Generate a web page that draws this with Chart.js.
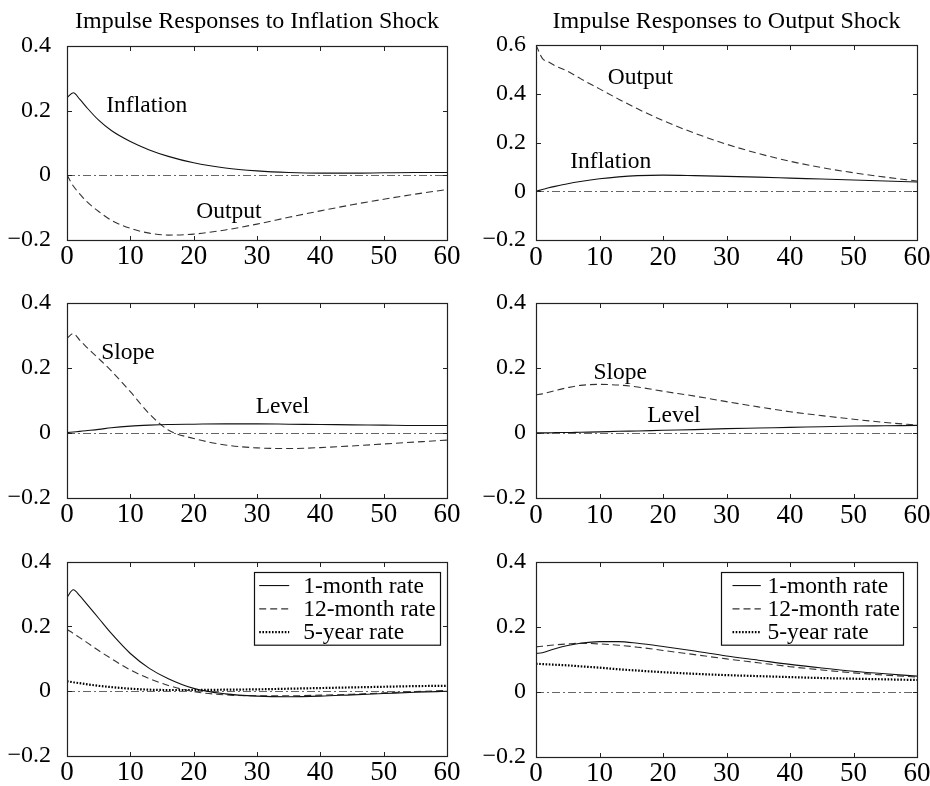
<!DOCTYPE html>
<html>
<head>
<meta charset="utf-8">
<script src="https://cdn.jsdelivr.net/npm/chart.js@4.4.1/dist/chart.umd.min.js"></script>
<style>
  html,body{margin:0;padding:0;background:#fff;}
  body{width:930px;height:786px;position:relative;overflow:hidden;}
  canvas{position:absolute;}
</style>
</head>
<body>
<canvas id="c1" width="465" height="270" style="left:0;top:0"></canvas>
<canvas id="c2" width="480" height="270" style="left:465px;top:0"></canvas>
<canvas id="c3" width="465" height="258" style="left:0;top:270px"></canvas>
<canvas id="c4" width="480" height="258" style="left:465px;top:270px"></canvas>
<canvas id="c5" width="465" height="258" style="left:0;top:528px"></canvas>
<canvas id="c6" width="480" height="258" style="left:465px;top:528px"></canvas>
<script>
// ---------------- DATA ----------------
const months = [0, 1, 2, 3, 5, 7, 10, 13, 16, 20, 25, 30, 35, 40, 45, 50, 55, 60];
const titles = ['Impulse Responses to Inflation Shock', 'Impulse Responses to Output Shock'];
const rateLabels = ['1-month rate', '12-month rate', '5-year rate'];

// Row 1: macro variables
const inflShockInflation = [0.240, 0.255, 0.235, 0.212, 0.170, 0.138, 0.104, 0.078, 0.058, 0.038, 0.022, 0.013, 0.008, 0.006, 0.006, 0.007, 0.008, 0.008];
const inflShockOutput    = [0.000, -0.034, -0.058, -0.080, -0.113, -0.140, -0.165, -0.180, -0.186, -0.183, -0.170, -0.152, -0.131, -0.111, -0.092, -0.075, -0.059, -0.045];
const outShockOutput     = [0.600, 0.545, 0.530, 0.515, 0.492, 0.462, 0.420, 0.378, 0.338, 0.290, 0.238, 0.193, 0.155, 0.123, 0.097, 0.076, 0.058, 0.042];
const outShockInflation  = [0.000, 0.007, 0.014, 0.020, 0.031, 0.040, 0.051, 0.059, 0.064, 0.066, 0.064, 0.061, 0.058, 0.054, 0.050, 0.046, 0.042, 0.038];

// Row 2: latent factors
const inflShockSlope = [0.290, 0.305, 0.285, 0.265, 0.228, 0.190, 0.126, 0.058, 0.008, -0.018, -0.038, -0.047, -0.049, -0.046, -0.041, -0.035, -0.029, -0.023];
const inflShockLevel = [0.000, 0.002, 0.004, 0.006, 0.010, 0.015, 0.020, 0.023, 0.025, 0.026, 0.027, 0.027, 0.026, 0.025, 0.024, 0.023, 0.022, 0.022];
const outShockSlope  = [0.117, 0.120, 0.125, 0.130, 0.139, 0.146, 0.149, 0.147, 0.141, 0.128, 0.113, 0.096, 0.080, 0.065, 0.053, 0.042, 0.032, 0.024];
const outShockLevel  = [0.000, 0.000, 0.000, 0.001, 0.001, 0.002, 0.003, 0.005, 0.006, 0.008, 0.010, 0.013, 0.015, 0.017, 0.019, 0.021, 0.022, 0.023];

// Row 3: yields
const inflShock1m  = [0.290, 0.313, 0.295, 0.272, 0.225, 0.178, 0.116, 0.070, 0.038, 0.008, -0.009, -0.016, -0.018, -0.016, -0.012, -0.008, -0.004, -0.001];
const inflShock12m = [0.190, 0.178, 0.165, 0.152, 0.125, 0.100, 0.065, 0.038, 0.017, -0.002, -0.012, -0.015, -0.015, -0.013, -0.010, -0.006, -0.002, 0.002];
const inflShock5y  = [0.030, 0.027, 0.024, 0.021, 0.016, 0.012, 0.007, 0.004, 0.003, 0.003, 0.004, 0.005, 0.007, 0.009, 0.011, 0.013, 0.015, 0.016];
const outShock1m   = [0.118, 0.120, 0.126, 0.132, 0.142, 0.149, 0.154, 0.154, 0.149, 0.139, 0.125, 0.110, 0.097, 0.084, 0.073, 0.063, 0.055, 0.048];
const outShock12m  = [0.138, 0.140, 0.142, 0.144, 0.147, 0.149, 0.147, 0.143, 0.137, 0.127, 0.114, 0.101, 0.089, 0.077, 0.067, 0.058, 0.051, 0.045];
const outShock5y   = [0.086, 0.085, 0.084, 0.083, 0.081, 0.078, 0.074, 0.069, 0.065, 0.060, 0.055, 0.051, 0.048, 0.045, 0.042, 0.040, 0.038, 0.036];

// ---------------- STYLE ----------------
const FONT = '"Liberation Serif","Times New Roman",Times,serif';
const FS = 23.5;
const FSX = 27;
const FSY = 24;
Chart.defaults.font.family = FONT;
Chart.defaults.color = '#000';

const STY = {
  solid:  {borderColor: '#111', borderWidth: 1.1, borderDash: []},
  dashed: {borderColor: '#333', borderWidth: 1.1, borderDash: [7, 4]},
  dotted: {borderColor: '#000', borderWidth: 2.2, borderDash: [1.6, 1.6]}
};

function series(label, values, style) {
  return Object.assign({
    label: label,
    data: months.map((m, i) => ({x: m, y: values[i]})),
    pointRadius: 0,
    fill: false,
    cubicInterpolationMode: 'monotone'
  }, STY[style]);
}

function fmt(v) {
  const r = Math.round(v * 10) / 10;
  if (Math.abs(r) < 1e-9) return '0';
  return (r < 0 ? '\u2212' : '') + Math.abs(r).toFixed(1);
}

// frame, inward ticks and dash-dot zero line
const framePlugin = {
  id: 'frame',
  beforeDatasetsDraw(chart) {
    const {ctx, chartArea: a, scales} = chart;
    const y0 = Math.round(scales.y.getPixelForValue(0)) + 0.5;
    ctx.save();
    ctx.strokeStyle = '#666';
    ctx.lineWidth = 1;
    ctx.setLineDash([8, 3, 2, 3]);
    ctx.beginPath(); ctx.moveTo(a.left, y0); ctx.lineTo(a.right, y0); ctx.stroke();
    ctx.restore();
  },
  afterDatasetsDraw(chart) {
    const {ctx, chartArea: a, scales} = chart;
    ctx.save();
    ctx.strokeStyle = '#222';
    ctx.lineWidth = 1.2;
    ctx.setLineDash([]);
    const L = Math.round(a.left) + 0.5, R = Math.round(a.right) + 0.5;
    const T = Math.round(a.top) + 0.5, B = Math.round(a.bottom) + 0.5;
    ctx.strokeRect(L, T, R - L, B - T);
    const tl = 4.5;
    ctx.lineWidth = 1;
    ctx.beginPath();
    scales.x.ticks.forEach(t => {
      const px = Math.round(scales.x.getPixelForValue(t.value)) + 0.5;
      ctx.moveTo(px, B); ctx.lineTo(px, B - tl);
      ctx.moveTo(px, T); ctx.lineTo(px, T + tl);
    });
    scales.y.ticks.forEach(t => {
      const py = Math.round(scales.y.getPixelForValue(t.value)) + 0.5;
      ctx.moveTo(L, py); ctx.lineTo(L + tl, py);
      ctx.moveTo(R, py); ctx.lineTo(R - tl, py);
    });
    ctx.stroke();
    ctx.restore();
  }
};

// text labels placed at data coordinates
const curveLabels = {
  id: 'curveLabels',
  afterDatasetsDraw(chart, args, opts) {
    if (!opts || !opts.items) return;
    const {ctx, scales} = chart;
    ctx.save();
    ctx.font = FS + 'px ' + FONT;
    ctx.fillStyle = '#000';
    ctx.textAlign = 'left';
    ctx.textBaseline = 'middle';
    opts.items.forEach(it => {
      ctx.fillText(it.text, scales.x.getPixelForValue(it.x), scales.y.getPixelForValue(it.y));
    });
    ctx.restore();
  }
};

// boxed legend inside the plot area
const boxLegend = {
  id: 'boxLegend',
  afterDatasetsDraw(chart, args, o) {
    if (!o || !o.display) return;
    const {ctx, chartArea: a} = chart;
    const ds = chart.data.datasets;
    ctx.save();
    ctx.font = FS + 'px ' + FONT;
    const maxW = Math.max(...ds.map(d => ctx.measureText(d.label).width));
    const w = o.padL + o.sample + o.gap + maxW + o.padR;
    const h = o.rowH * ds.length + 2 * o.padV;
    const right = Math.round(a.right - o.right) + 0.5;
    const left = Math.round(right - w) + 0.5;
    const top = Math.round(a.top + o.top) + 0.5;
    ctx.fillStyle = '#fff';
    ctx.fillRect(left, top, right - left, h);
    ctx.strokeStyle = '#111';
    ctx.lineWidth = 1.2;
    ctx.strokeRect(left, top, right - left, h);
    ds.forEach((d, i) => {
      const cy = top + o.padV + o.rowH * (i + 0.5);
      ctx.setLineDash(d.borderDash || []);
      ctx.strokeStyle = d.borderColor;
      ctx.lineWidth = d.borderWidth;
      ctx.beginPath();
      ctx.moveTo(left + o.padL, cy); ctx.lineTo(left + o.padL + o.sample, cy);
      ctx.stroke();
      ctx.setLineDash([]);
      ctx.fillStyle = '#000';
      ctx.textAlign = 'left';
      ctx.textBaseline = 'middle';
      ctx.fillText(d.label, left + o.padL + o.sample + o.gap, cy + 1);
    });
    ctx.restore();
  }
};

function makeChart(id, p) {
  return new Chart(document.getElementById(id), {
    type: 'line',
    data: {datasets: p.datasets},
    plugins: [framePlugin, curveLabels, boxLegend],
    options: {
      responsive: false,
      devicePixelRatio: 1,
      animation: false,
      events: [],
      layout: {padding: {left: 0, right: p.padR, top: p.padT, bottom: 0}},
      plugins: {
        legend: {display: false},
        tooltip: {enabled: false},
        title: p.title ? {
          display: true, text: p.title, fullSize: false, color: '#000',
          font: {family: FONT, size: 24, weight: 'normal', lineHeight: 1.2},
          padding: {top: 7, bottom: p.titleBottom}
        } : {display: false},
        curveLabels: {items: p.labels || null},
        boxLegend: p.legend || {display: false}
      },
      scales: {
        x: {
          type: 'linear', min: 0, max: 60,
          ticks: {stepSize: 10, padding: 4, color: '#000', font: {size: FSX, family: FONT, lineHeight: 1}, maxRotation: 0},
          grid: {display: false, drawTicks: false},
          border: {display: false},
          afterFit: s => { s.height = p.xH; }
        },
        y: {
          type: 'linear', min: p.ymin, max: p.ymax,
          ticks: {stepSize: 0.2, padding: p.yPad, color: '#000', font: {size: FSY, family: FONT}, callback: v => fmt(v)},
          grid: {display: false, drawTicks: false},
          border: {display: false},
          afterFit: s => { s.width = p.yW; }
        }
      }
    }
  });
}

// Left column: chart area x 67..447 ; right column: 536..917 (canvas 465..945, clipped at 930)
makeChart('c1', {
  title: titles[0], titleBottom: 10.2, padT: 0, padR: 18, yW: 67, yPad: 16, xH: 30, ymin: -0.2, ymax: 0.4,
  datasets: [series('Inflation', inflShockInflation, 'solid'), series('Output', inflShockOutput, 'dashed')],
  labels: [{text: 'Inflation', x: 6.2, y: 0.215}, {text: 'Output', x: 20.4, y: -0.115}]
});
makeChart('c2', {
  title: titles[1], titleBottom: 9.2, padT: 0, padR: 28, yW: 71, yPad: 10, xH: 30, ymin: -0.2, ymax: 0.6,
  datasets: [series('Inflation', outShockInflation, 'solid'), series('Output', outShockOutput, 'dashed')],
  labels: [{text: 'Output', x: 11.3, y: 0.465}, {text: 'Inflation', x: 5.4, y: 0.12}]
});
makeChart('c3', {
  padT: 32.7, padR: 18, yW: 67, yPad: 16, xH: 30, ymin: -0.2, ymax: 0.4,
  datasets: [series('Level', inflShockLevel, 'solid'), series('Slope', inflShockSlope, 'dashed')],
  labels: [{text: 'Slope', x: 5.4, y: 0.246}, {text: 'Level', x: 29.8, y: 0.078}]
});
makeChart('c4', {
  padT: 32.7, padR: 28, yW: 71, yPad: 10, xH: 30, ymin: -0.2, ymax: 0.4,
  datasets: [series('Level', outShockLevel, 'solid'), series('Slope', outShockSlope, 'dashed')],
  labels: [{text: 'Slope', x: 9.05, y: 0.185}, {text: 'Level', x: 17.5, y: 0.052}]
});
makeChart('c5', {
  padT: 33.7, padR: 18, yW: 67, yPad: 16, xH: 29.3, ymin: -0.2, ymax: 0.4,
  datasets: [series(rateLabels[0], inflShock1m, 'solid'), series(rateLabels[1], inflShock12m, 'dashed'), series(rateLabels[2], inflShock5y, 'dotted')],
  legend: {display: true, right: 7, top: 10.5, padL: 4.7, sample: 30, gap: 14, padR: 5.7, rowH: 23.3, padV: 1.4}
});
makeChart('c6', {
  padT: 33.7, padR: 28, yW: 71, yPad: 10, xH: 29.3, ymin: -0.2, ymax: 0.4,
  datasets: [series(rateLabels[0], outShock1m, 'solid'), series(rateLabels[1], outShock12m, 'dashed'), series(rateLabels[2], outShock5y, 'dotted')],
  legend: {display: true, right: 13.7, top: 10.5, padL: 11, sample: 28.3, gap: 6.7, padR: 4, rowH: 23.3, padV: 1.4}
});
</script>
</body>
</html>
